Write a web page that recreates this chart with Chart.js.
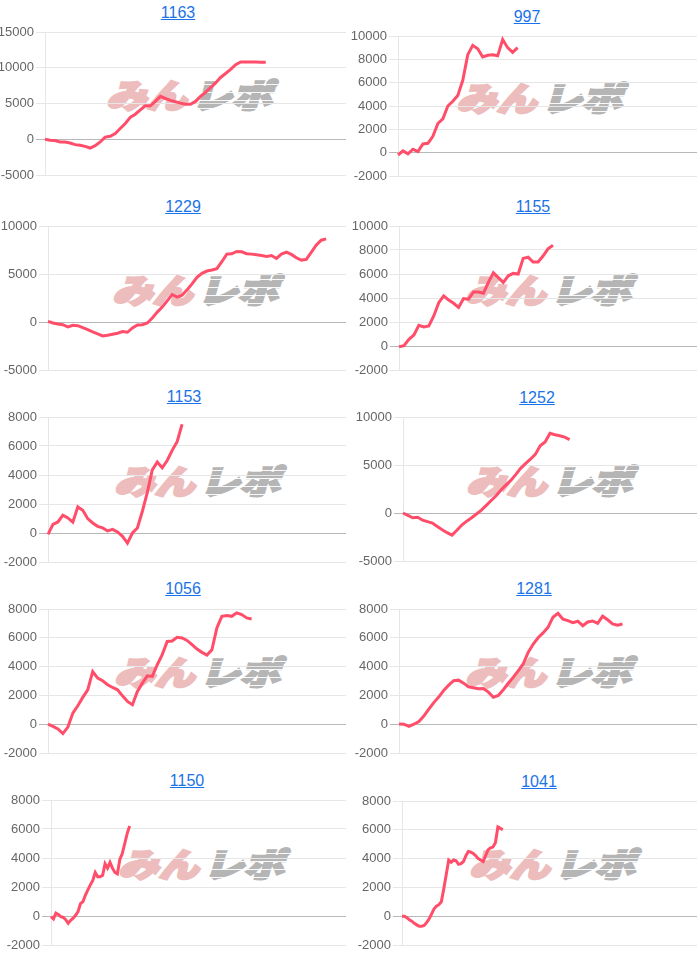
<!DOCTYPE html>
<html><head><meta charset="utf-8">
<script src="https://cdn.jsdelivr.net/npm/chart.js@4/dist/chart.umd.min.js"></script>
<style>
html,body{margin:0;padding:0;background:#fff;}
body{position:relative;width:700px;height:956px;overflow:hidden;}
.t{position:absolute;transform:translate(-50%,-50%);font:16px "Liberation Sans",Arial,sans-serif;color:#1a73e8;text-decoration:underline;white-space:nowrap;z-index:2;}
.wm{position:absolute;transform:translate(-50%,-50%) skewX(-16deg) scaleX(1.22);font-family:"Noto Sans CJK JP",sans-serif;font-weight:900;font-size:33px;line-height:1;white-space:nowrap;z-index:0;letter-spacing:0px;}
.wm .a{color:#edbcbc;-webkit-text-stroke:2.5px #edbcbc;}
.wm .b{color:#b5b5b5;-webkit-text-stroke:2.5px #b5b5b5;position:relative;margin-left:4px;}
.wm .b::after{content:"";position:absolute;left:-4px;right:-4px;top:0;bottom:0;background:repeating-linear-gradient(to bottom,transparent 0,transparent 7px,rgba(255,255,255,0.9) 7px,rgba(255,255,255,0.9) 8px);}
canvas{position:absolute;z-index:1;}
</style></head><body>
<script>
// ---- data ----
const titles = ['1163','997','1229','1155','1153','1252','1056','1281','1150','1041'];
const slotCounts = [61,61,61,61,61,61,61,61,121,121];

const ticks1163 = [-5000,0,5000,10000,15000];
const ticks997  = [-2000,0,2000,4000,6000,8000,10000];
const ticks1229 = [-5000,0,5000,10000];
const ticks1155 = [-2000,0,2000,4000,6000,8000,10000];
const ticks1153 = [-2000,0,2000,4000,6000,8000];
const ticks1252 = [-5000,0,5000,10000];
const ticks1056 = [-2000,0,2000,4000,6000,8000];
const ticks1281 = [-2000,0,2000,4000,6000,8000];
const ticks1150 = [-2000,0,2000,4000,6000,8000];
const ticks1041 = [-2000,0,2000,4000,6000,8000];

const values1163 = [0,-140,-190,-380,-400,-520,-750,-850,-1000,-1230,-900,-380,300,420,800,1500,2200,3070,3500,4100,4670,4670,5290,6000,5700,5430,5240,5050,4900,4900,5290,6000,6560,7220,7880,8640,9200,9770,10430,10800,10800,10800,10800,10760,10760];
const values997  = [-200,150,-100,300,100,750,800,1400,2500,2900,4000,4400,4900,6200,8400,9200,8900,8200,8350,8400,8300,9700,9000,8600,9000];
const values1229 = [70,-100,-200,-280,-520,-350,-380,-590,-790,-1030,-1240,-1450,-1380,-1280,-1170,-1000,-1070,-620,-310,-280,-100,410,1030,1550,2200,2860,2590,2790,3350,3970,4660,5070,5310,5420,5550,6280,7070,7110,7350,7310,7110,7070,7000,6930,6830,6930,6620,7070,7280,7040,6690,6450,6520,7250,8000,8520,8660];
const values1155 = [-60,30,560,920,1720,1580,1670,2500,3610,4170,3830,3560,3220,3950,3900,4500,4500,4400,5300,6100,5700,5300,5850,6050,6000,7300,7400,7000,7000,7500,8100,8400];
const values1153 = [-100,600,760,1230,1040,750,1800,1570,990,690,460,350,140,250,70,-230,-700,0,350,1500,2800,4350,4900,4500,5000,5700,6300,7500];
const values1252 = [0,-250,-500,-450,-750,-900,-1050,-1400,-1750,-2050,-2300,-1800,-1250,-850,-500,-100,300,800,1300,1800,2400,2900,3400,4000,4650,5150,5600,6100,7000,7400,8300,8150,8050,7900,7650];
const values1056 = [0,-150,-330,-650,-200,770,1280,1860,2390,3660,3200,3020,2740,2550,2390,1970,1580,1350,2270,2850,3360,3320,4130,4830,5750,5780,6030,5990,5820,5520,5220,4990,4800,5170,6680,7490,7540,7490,7730,7610,7380,7310];
const values1281 = [20,0,-150,0,190,560,1040,1500,1880,2350,2710,3020,3060,2850,2600,2530,2460,2480,2230,1870,2000,2390,2840,3250,3710,4180,4990,5550,6000,6340,6730,7430,7700,7300,7190,7050,7150,6840,7100,7170,7000,7500,7250,6960,6880,6960];
const values1150 = [-50,-200,200,100,-50,-100,-250,-500,-300,-150,50,300,850,1000,1450,1800,2150,2450,3000,2700,2700,2800,3600,3300,3700,3300,3000,2900,3900,4300,5000,5700,6200];
const values1041 = [0,0,-100,-250,-350,-500,-600,-700,-700,-650,-450,-200,150,500,700,800,1000,1900,2900,3900,3750,3900,3850,3600,3650,3800,4200,4500,4450,4350,4200,4000,3900,3800,4200,4600,4750,4800,5100,6200,6100,6000];

const seriesList = [values1163,values997,values1229,values1155,values1153,values1252,values1056,values1281,values1150,values1041];
const tickList = [ticks1163,ticks997,ticks1229,ticks1155,ticks1153,ticks1252,ticks1056,ticks1281,ticks1150,ticks1041];

// ---- layout (positions only) ----
const layout = [
 {L:45, T:32, R:346, B:175, col:0, tx:178, ty:13, wx:193, wy:94},
 {L:398, T:36, R:697, B:176, col:1, tx:527, ty:17, wx:543, wy:97},
 {L:48, T:226, R:346, B:370, col:0, tx:183, ty:207, wx:199, wy:289},
 {L:399, T:226, R:697, B:370, col:1, tx:533, ty:207, wx:552, wy:289},
 {L:48, T:417, R:346, B:562, col:0, tx:184, ty:397, wx:201, wy:480},
 {L:403, T:417, R:697, B:561, col:1, tx:537, ty:398, wx:553, wy:480},
 {L:48, T:609, R:346, B:753, col:0, tx:183, ty:589, wx:201, wy:671},
 {L:399, T:609, R:697, B:753, col:1, tx:534, ty:589, wx:552, wy:671},
 {L:51, T:800, R:346, B:945, col:0, tx:187, ty:781, wx:205, wy:863},
 {L:402, T:801, R:697, B:945, col:1, tx:539, ty:782, wx:556, wy:863}
];
const LINE_COLOR = 'rgb(255,77,106)';

function build(i){
  const b = layout[i];
  const cellLeft = b.col ? 350 : 0;

  const t = document.createElement('a');
  t.className = 't'; t.href = '#'; t.textContent = titles[i];
  t.style.left = b.tx + 'px'; t.style.top = b.ty + 'px';
  document.body.appendChild(t);

  const wm = document.createElement('div');
  wm.className = 'wm';
  wm.innerHTML = '<span class="a">みん</span><span class="b">レポ</span>';
  wm.style.left = b.wx + 'px'; wm.style.top = b.wy + 'px';
  document.body.appendChild(wm);

  const cv = document.createElement('canvas');
  const w = b.R - cellLeft, h = b.B - b.T + 20;
  cv.width = w; cv.height = h;
  cv.style.left = cellLeft + 'px'; cv.style.top = (b.T - 10) + 'px';
  cv.style.width = w + 'px'; cv.style.height = h + 'px';
  document.body.appendChild(cv);

  const ticks = tickList[i];
  const labels = Array.from({length: slotCounts[i]}, (_, k) => String(k));
  new Chart(cv, {
    type: 'line',
    data: { labels: labels, datasets: [{ data: seriesList[i], borderColor: LINE_COLOR, borderWidth: 3, pointRadius: 0, tension: 0, fill: false }] },
    options: {
      responsive: false, animation: false,
      layout: { padding: { top: 10, bottom: 10, left: 0, right: 0 } },
      plugins: { legend: { display: false }, tooltip: { enabled: false }, title: { display: false } },
      scales: {
        x: { display: false },
        y: {
          min: ticks[0], max: ticks[ticks.length - 1],
          afterFit(s) { s.width = b.L - cellLeft; },
          afterBuildTicks(s) { s.ticks = ticks.map(v => ({ value: v })); },
          ticks: { color: '#666', font: { family: '"Liberation Sans", Arial, sans-serif', size: 13 }, padding: 2, callback: v => String(v) },
          grid: { color: c => (c.tick && c.tick.value === 0) ? '#b8b8b8' : '#e6e6e6', tickLength: 9 },
          border: { color: '#e6e6e6' }
        }
      }
    }
  });
}
for (let i = 0; i < titles.length; i++) build(i);
</script>
</body></html>
